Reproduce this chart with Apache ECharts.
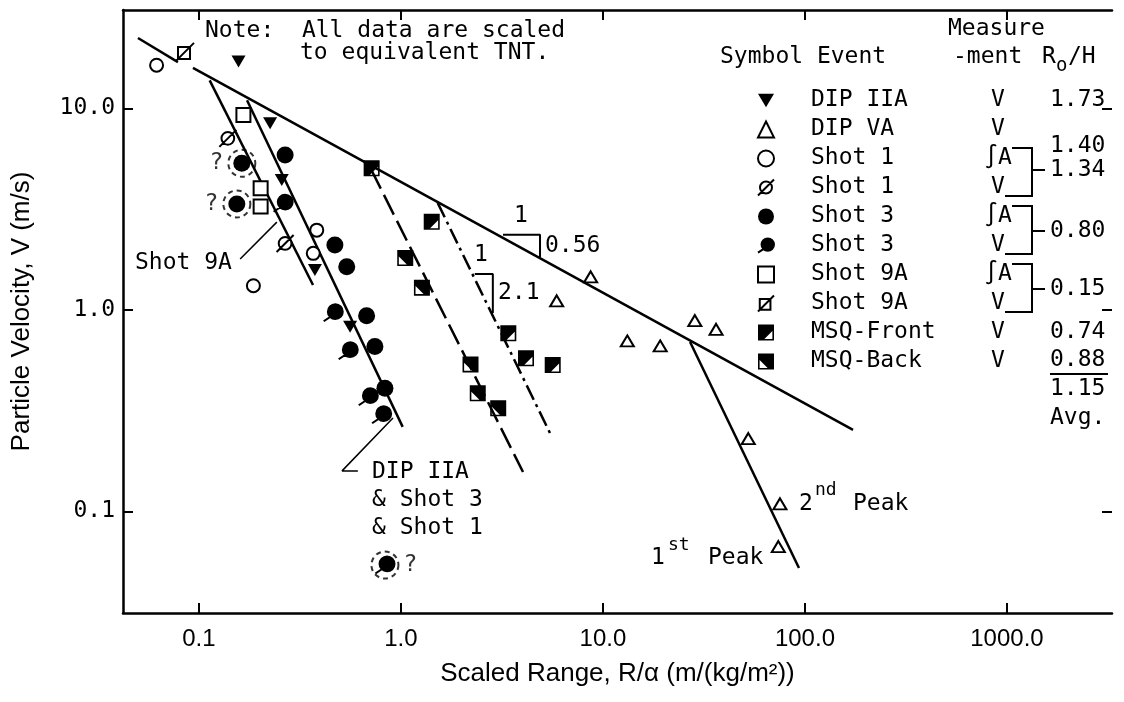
<!DOCTYPE html>
<html><head><meta charset="utf-8">
<script src="https://cdn.jsdelivr.net/npm/echarts@6/dist/echarts.min.js"></script>
<style>html,body{margin:0;padding:0;background:#fff}#c{width:1124px;height:702px}</style>
</head><body><div id="c"></div>
<script>
// ---------- ticks ----------
const xTicks = [0.1, 1, 10, 100, 1000];
const xTickLabels = ['0.1', '1.0', '10.0', '100.0', '1000.0'];
const yTicks = [0.1, 1, 10];
const yTickLabels = ['0.1', '1.0', '10.0'];

// ---------- measured data (scaled range, particle velocity) ----------
const dipIIA_x = [0.157, 0.225, 0.257, 0.375, 0.560];
const dipIIA_y = [17.1, 8.45, 4.42, 1.58, 0.826];
const dipVA_x = [5.90, 8.69, 13.2, 19.2, 28.5, 36.3, 52.4, 75.2, 73.8];
const dipVA_y = [1.11, 1.46, 0.702, 0.663, 0.885, 0.802, 0.230, 0.109, 0.0669];
const shot1A_x = [0.0617, 0.186, 0.368, 0.383];
const shot1A_y = [16.4, 1.32, 1.91, 2.49];
const shot1V_x = [0.139, 0.267];
const shot1V_y = [7.11, 2.14];
const shot3A_x = [0.163, 0.154, 0.267, 0.471, 0.539, 0.676, 0.743, 0.833];
const shot3A_y = [5.35, 3.36, 5.88, 2.10, 1.64, 0.937, 0.658, 0.409];
const shot3V_x = [0.261, 0.462, 0.548, 0.689, 0.802, 0.833];
const shot3V_y = [3.39, 0.969, 0.628, 0.371, 0.302, 0.0542];
const shot9AA_x = [0.166, 0.202, 0.202];
const shot9AA_y = [9.29, 4.02, 3.26];
const shot9AV_x = [0.0853];
const shot9AV_y = [19.1];
const msqFront_x = [0.716, 1.42, 3.40, 4.16, 5.64];
const msqFront_y = [5.05, 2.74, 0.766, 0.576, 0.533];
const msqBack_x = [1.05, 1.27, 2.21, 2.40, 3.03];
const msqBack_y = [1.81, 1.29, 0.537, 0.386, 0.325];
const doubtful_x = [0.163, 0.154, 0.833];
const doubtful_y = [5.35, 3.36, 0.0542];

// ---------- fitted lines ----------
const fitMainA_x = [0.0499, 0.0787];
const fitMainA_y = [22.4, 17.0];
const fitMainB_x = [0.0934, 173];
const fitMainB_y = [15.9, 0.254];
const fitShot1_x = [0.113, 0.367];
const fitShot1_y = [13.8, 1.33];
const fitDip_x = [0.173, 1.02];
const fitDip_y = [11.0, 0.263];
const fitDashed_x = [0.710, 4.02];
const fitDashed_y = [5.01, 0.157];
const fitDashDot_x = [1.52, 5.59];
const fitDashDot_y = [3.40, 0.234];
const fitPeak_x = [27.0, 93.4];
const fitPeak_y = [0.694, 0.0524];

// ---------- slope triangles & leaders ----------
const slope056_x = [3.20, 4.88, 4.88];
const slope056_y = [2.36, 2.36, 1.83];
const slope21_x = [2.32, 2.85, 2.85];
const slope21_y = [1.51, 1.51, 0.966];
const lead9A_x = [0.160, 0.243];
const lead9A_y = [1.79, 2.73];
const leadDip_x = [0.913, 0.511, 0.612];
const leadDip_y = [0.291, 0.159, 0.159];

// ---------- legend table ----------
const legendNames = ['DIP IIA|1', 'DIP VA|2', 'Shot 1|A', 'Shot 1|V', 'Shot 3|A', 'Shot 3|V', 'Shot 9A|A', 'Shot 9A|V', 'MSQ-Front|F', 'MSQ-Back|B'];
const measureCol = ['V', 'V', '\u222BA', 'V', '\u222BA', 'V', '\u222BA', 'V', 'V', 'V'];
const roValues = ['1.73', '1.40', '1.34', '0.80', '0.15', '0.74', '0.88', '1.15', 'Avg.'];

// ---------- helpers ----------
const L = v => Math.log10(v);
const pts = (xs, ys) => xs.map((x, i) => [L(x), L(ys[i])]);
const MONO = '"DejaVu Sans Mono", monospace';
const SANS = '"Liberation Sans", Arial, sans-serif';
const X_MIN = -1.376, X_MAX = 3.520, Y_MIN = -1.504, Y_MAX = 1.489;
const lbl = (ticks, labels) => v => {
  for (let i = 0; i < ticks.length; i++) if (Math.abs(L(ticks[i]) - v) < 1e-6) return labels[i];
  return '';
};

const SYM = {
  downTri: 'path://M0,0L20,0L10,17Z',
  slashCircle: 'path://M10,4A6,6,0,1,1,9.99,4Z M2,18L18,2',
  tailCircle: 'path://M12,2A7,7,0,1,1,11.99,2Z M7,14L1,18',
  slashSquare: 'path://M3,5L15,5L15,17L3,17Z M1,19L19,1',
  msqFront: 'path://M0,0L20,0L20,20L0,20Z M18,8L8,18L18,18Z',
  msqBack: 'path://M0,0L20,0L20,20L0,20Z M2,8L2,18L12,18Z'
};

function scatter(name, xs, ys, symbol, size, fill, bw) {
  return {
    type: 'scatter', name: name, data: pts(xs, ys), symbol: symbol, symbolSize: size,
    symbolKeepAspect: false, z: 5,
    itemStyle: { color: fill, borderColor: '#000', borderWidth: bw, opacity: 1 },
    emphasis: { disabled: true }
  };
}
function line(xs, ys, type, width) {
  return {
    type: 'line', data: pts(xs, ys), symbol: 'none', silent: true, z: 2,
    lineStyle: { color: '#000', width: width || 2.5, type: type || 'solid' },
    emphasis: { disabled: true }, animation: false
  };
}

const series = [
  line(fitMainA_x, fitMainA_y),
  line(fitMainB_x, fitMainB_y),
  line(fitShot1_x, fitShot1_y),
  line(fitDip_x, fitDip_y),
  line(fitDashed_x, fitDashed_y, [22, 7]),
  line(fitDashDot_x, fitDashDot_y, [16, 5, 3, 5]),
  line(fitPeak_x, fitPeak_y),
  line(slope056_x, slope056_y, 'solid', 2),
  line(slope21_x, slope21_y, 'solid', 2),
  line(lead9A_x, lead9A_y, 'solid', 1.5),
  line(leadDip_x, leadDip_y, 'solid', 1.5),
  scatter(legendNames[0], dipIIA_x, dipIIA_y, SYM.downTri, [14, 12], '#000', 0),
  scatter(legendNames[1], dipVA_x, dipVA_y, 'triangle', [13, 11], '#fff', 2),
  scatter(legendNames[2], shot1A_x, shot1A_y, 'circle', 13, '#fff', 2),
  scatter(legendNames[3], shot1V_x, shot1V_y, SYM.slashCircle, 17, '#fff', 2),
  scatter(legendNames[4], shot3A_x, shot3A_y, 'circle', 17, '#000', 0),
  scatter(legendNames[5], shot3V_x, shot3V_y, SYM.tailCircle, [19, 17], '#000', 2),
  scatter(legendNames[6], shot9AA_x, shot9AA_y, 'rect', 14, '#fff', 2),
  scatter(legendNames[7], shot9AV_x, shot9AV_y, SYM.slashSquare, 18, '#fff', 2),
  scatter(legendNames[8], msqFront_x, msqFront_y, SYM.msqFront, 16, '#000', 0),
  scatter(legendNames[9], msqBack_x, msqBack_y, SYM.msqBack, 16, '#000', 0),
  {
    type: 'scatter', name: 'doubtful', z: 4,
    data: pts(doubtful_x, doubtful_y).map((p, i) => ({ value: p, label: { position: i < 2 ? 'left' : 'right' } })),
    symbol: 'circle', symbolSize: 27,
    itemStyle: { color: 'rgba(0,0,0,0)', borderColor: '#000', borderWidth: 2, borderType: [5, 4] },
    label: { show: true, formatter: '?', fontFamily: MONO, fontSize: 23, color: '#000', distance: 4 },
    emphasis: { disabled: true }
  }
];

// ---------- graphic texts ----------
function T(s, x, y, size, align) {
  return { type: 'text', x: x, y: y, silent: true, z: 100,
    style: { text: s, font: (size || 23) + 'px ' + MONO, fill: '#000', verticalAlign: 'middle', align: align || 'left' } };
}
function P(points, w) {
  return { type: 'polyline', silent: true, z: 100, shape: { points: points },
    style: { stroke: '#000', lineWidth: w || 2, fill: null } };
}
const rowY = [100, 129, 158, 187, 216, 245, 274, 303, 332, 361];
const roY = [100, 146, 170, 231, 289, 332, 360, 389, 418];
const graphics = [
  T('Note:  All data are scaled', 205, 31),
  T('to equivalent TNT.', 300, 53),
  T('Shot 9A', 135, 263),
  T('DIP IIA', 372, 472), T('& Shot 3', 372, 500), T('& Shot 1', 372, 528),
  T('1', 514, 216), T('0.56', 545, 246),
  T('1', 474, 255), T('2.1', 498, 293),
  T('2', 799, 504), T('nd', 815, 490, 18), T('Peak', 853, 504),
  T('1', 651, 558), T('st', 668, 545, 18), T('Peak', 708, 558),
  T('Measure', 948, 29),
  T('Symbol Event', 720, 57),
  T('-ment', 953, 57),
  T('R', 1042, 57), T('o', 1056, 66, 19), T('/H', 1068, 57)
];
measureCol.forEach((m, i) => graphics.push(T(m, 998, rowY[i], 23, 'center')));
roValues.forEach((v, i) => graphics.push(T(v, 1050, roY[i])));
[[148, 196, 170], [206, 254, 231], [264, 312, 289]].forEach(b => {
  graphics.push(P([[1012, b[0]], [1032, b[0]], [1032, b[1]], [1005, b[1]]]));
  graphics.push(P([[1032, b[2]], [1045, b[2]]]));
});
graphics.push(P([[1050, 374], [1108, 374]]));

const tickStyle = { color: '#000', width: 2 };

const option = {
  animation: false,
  backgroundColor: '#fff',
  grid: { left: 123, right: 12, top: 10, bottom: 89, containLabel: false },
  xAxis: [
    {
      type: 'value', position: 'bottom', min: X_MIN, max: X_MAX, splitLine: { show: false },
      axisLine: { show: true, onZero: false, lineStyle: { color: '#000', width: 2.5 } },
      axisTick: { show: true, inside: true, length: 10, lineStyle: tickStyle, customValues: xTicks.map(L) },
      axisLabel: { customValues: xTicks.map(L), formatter: lbl(xTicks, xTickLabels), fontFamily: SANS, fontSize: 24, color: '#000', margin: 14 },
      name: 'Scaled Range, R/\u03B1 (m/(kg/m\u00B2))', nameLocation: 'middle', nameGap: 48,
      nameTextStyle: { fontFamily: SANS, fontSize: 26, color: '#000' }
    },
    {
      type: 'value', position: 'top', min: X_MIN, max: X_MAX, splitLine: { show: false },
      axisLine: { show: true, onZero: false, lineStyle: { color: '#000', width: 2.5 } },
      axisTick: { show: true, inside: true, length: 10, lineStyle: tickStyle, customValues: xTicks.map(L) },
      axisLabel: { show: false }
    }
  ],
  yAxis: [
    {
      type: 'value', position: 'left', min: Y_MIN, max: Y_MAX, splitLine: { show: false },
      axisLine: { show: true, onZero: false, lineStyle: { color: '#000', width: 2.5 } },
      axisTick: { show: true, inside: true, length: 10, lineStyle: tickStyle, customValues: yTicks.map(L) },
      axisLabel: { customValues: yTicks.map(L), formatter: lbl(yTicks, yTickLabels), fontFamily: MONO, fontSize: 23, color: '#000', margin: 8 },
      name: 'Particle Velocity, V (m/s)', nameLocation: 'middle', nameGap: 88,
      nameTextStyle: { fontFamily: SANS, fontSize: 26, color: '#000' }
    },
    {
      type: 'value', position: 'right', min: Y_MIN, max: Y_MAX, splitLine: { show: false },
      axisLine: { show: false, onZero: false },
      axisTick: { show: true, inside: true, length: 10, lineStyle: tickStyle, customValues: yTicks.map(L) },
      axisLabel: { show: false }
    }
  ],
  legend: {
    orient: 'vertical', left: 757, top: 86, itemGap: 0, itemWidth: 16, itemHeight: 16, padding: 0,
    data: legendNames, selectedMode: false,
    formatter: n => n.split('|')[0],
    textStyle: { fontFamily: MONO, fontSize: 23, color: '#000', lineHeight: 29, padding: [0, 0, 0, 32] }
  },
  graphic: graphics,
  series: series
};

const chart = echarts.init(document.getElementById('c'), null, { renderer: 'canvas' });
chart.setOption(option);
</script>
</body></html>
